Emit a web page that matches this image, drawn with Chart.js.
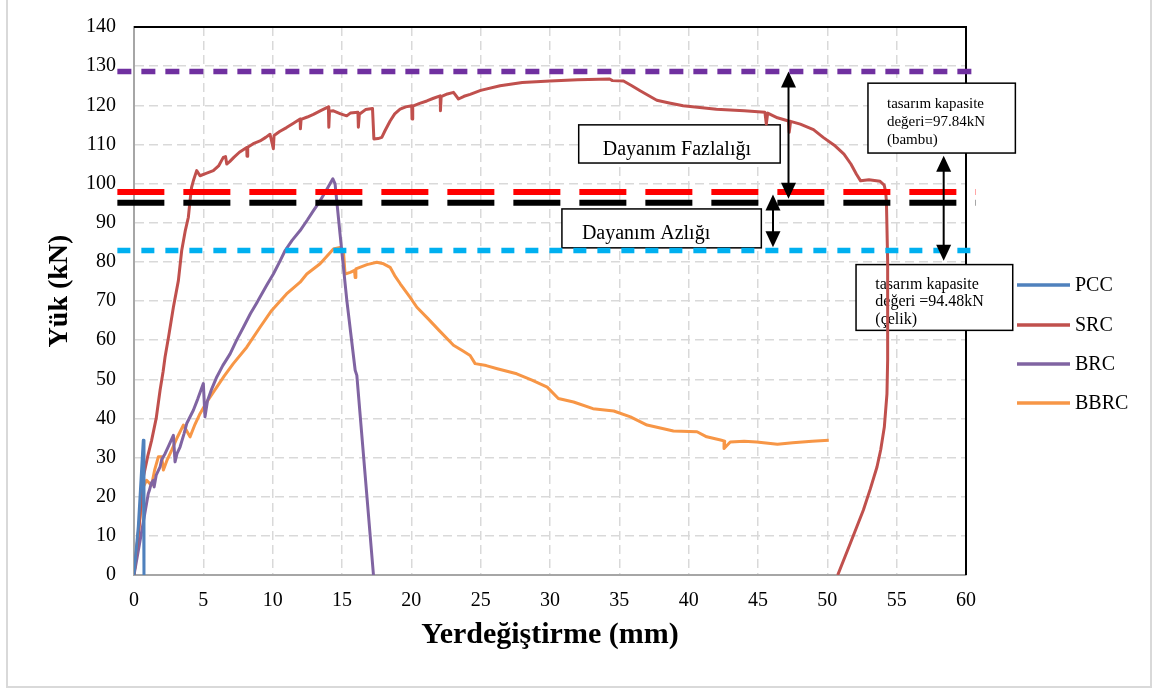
<!DOCTYPE html>
<html>
<head>
<meta charset="utf-8">
<script src="https://cdn.jsdelivr.net/npm/chart.js@4.4.1/dist/chart.umd.min.js"></script>
<style>
  html, body { margin: 0; padding: 0; background: #fff; }
  #wrap { position: relative; width: 1155px; height: 690px; overflow: hidden; }
  #frame { position: absolute; left: 6px; top: -2px; width: 1146px; height: 690px; border: 2px solid #d9d9d9; box-sizing: border-box; pointer-events: none; }
  canvas { position: absolute; left: 0; top: 0; }
</style>
</head>
<body>
<div id="wrap">
  <canvas id="chart" width="1155" height="690"></canvas>
  <div id="frame"></div>
</div>
<script>
// Load-displacement curves (x in mm, y in kN)
const pccX = [0, 0.31, 0.55, 0.67, 0.72];
const pccY = [0, 12.3, 27, 34.4, 0];

const srcX = [0, 0.35, 0.67, 1.0, 1.27, 1.6, 1.88, 2.1, 2.24, 2.5, 2.84, 3.2, 3.44, 3.7, 3.92, 4.04, 4.15, 4.28, 4.52, 4.76, 5.2, 5.72,
  6.1, 6.44, 6.6, 6.69, 6.9, 7.2, 7.6, 8.13, 8.15, 8.2, 8.6, 9.09, 9.5, 9.81, 10.05, 10.1, 10.5, 11.0, 11.5, 11.98, 12.0, 12.05,
  12.5, 12.94, 13.5, 14.02, 14.05, 14.1, 14.38, 14.9, 15.34, 15.6, 16.15, 16.18, 16.25, 16.7, 17.2, 17.3, 17.6, 17.87, 18.1,
  18.47, 18.8, 19.19, 19.6, 20.03, 20.05, 20.1, 20.6, 21.12, 21.6, 22.08, 22.1, 22.15, 22.6, 23.04, 23.4, 23.8, 24.24, 25.0,
  26.4, 28.0, 30.0, 32.0, 34.3, 34.5, 35.3, 35.9, 36.5, 37.7, 38.6, 39.6, 42.0, 44.0, 45.5, 45.6, 45.7, 46.4, 47.2, 47.25,
  47.35, 48.05, 49.0, 49.7, 50.5, 51.2, 51.7, 52.1, 52.4, 53.0, 53.8, 54.1, 54.2, 54.26, 54.35, 54.35, 54.3, 54.11, 53.85,
  53.58, 53.1, 52.6, 51.66, 50.75];
const srcY = [0, 12, 25, 30.5, 34.4, 40, 47.2, 52, 55.7, 61, 68.4, 75.2, 82.9, 88, 91.4, 95.6, 99, 100.7, 103.3, 102, 102.6, 103.3,
  104.5, 106.7, 106.9, 105, 105.6, 106.7, 108, 109.2, 107, 109.3, 110.2, 110.9, 111.8, 112.6, 108.9, 112.3, 113.3, 114.3, 115.4, 116.5, 114, 116.4,
  117, 117.7, 118.7, 119.6, 114.4, 118.5, 118.6, 117.8, 117.3, 118.0, 118.2, 114.4, 117.7, 118.9, 119.2, 111.4, 111.5, 111.8, 113.5,
  116, 117.8, 119, 119.6, 119.9, 116.5, 119.8, 120.5, 121.1, 121.8, 122.4, 118.6, 122.2, 122.9, 123.3, 121.6, 122.3, 122.8, 123.8,
  125.0, 125.8, 126.2, 126.5, 126.7, 126.3, 126.2, 125, 123.7, 121.3, 120.6, 119.9, 119.0, 118.6, 118.2, 115.2, 118, 116.8, 116.0, 113.1,
  115.9, 115.2, 113.8, 111.8, 109.8, 107.5, 105, 102.4, 100.7, 101.0, 100.6, 99.6, 98, 95.6, 80, 55, 46.3, 37.8, 32,
  27.6, 22, 16.6, 8.1, 0];

const brcX = [0, 0.5, 1.03, 1.1, 1.25, 1.39, 1.45, 1.6, 1.88, 2.0, 2.24, 2.5, 2.84, 2.96, 3.1, 3.32, 3.6, 3.8, 4.28, 4.6, 5.0, 5.12,
  5.3, 5.6, 5.97, 6.4, 6.93, 7.4, 7.89, 8.4, 8.85, 9.09, 9.6, 10.05, 10.5, 10.9, 11.4, 11.98, 12.5, 12.94, 13.42, 13.9, 14.34,
  14.5, 14.86, 15.35, 15.95, 16.07, 17.27];
const brcY = [0, 10, 20.8, 21.5, 23.5, 24.2, 22.5, 25.5, 27.6, 29.5, 31.0, 33, 35.7, 28.9, 31, 32.7, 36, 38.7, 42.1, 45, 48.9, 40.4,
  44.5, 47.5, 50.6, 53.5, 56.5, 60, 63.3, 66.8, 69.5, 71.0, 74.2, 76.9, 80, 82.9, 85.5, 88, 90.7, 93.1, 95.6, 98.5, 101.2,
  99.9, 87.1, 70.1, 52.3, 51, 0];

const bbrcX = [0, 0.3, 0.67, 0.91, 1.1, 1.27, 1.5, 1.76, 2.0, 2.12, 2.4, 2.72, 3.1, 3.56, 4.04, 4.4, 4.76, 5.3, 5.97, 6.5, 7.16,
  8.13, 9.09, 9.93, 11.0, 11.98, 12.46, 13.42, 14.38, 14.86, 15.1, 15.22, 15.6, 15.9, 15.95, 16.0, 16.8, 17.51, 18.0, 18.47,
  18.8, 19.2, 19.9, 20.4, 21.2, 22.0, 23.04, 23.7, 24.24, 24.6, 25.4, 26.2, 27.6, 28.7, 29.8, 30.6, 31.7, 33.1, 34.6, 35.8,
  37.0, 38.9, 40.6, 41.3, 42.3, 42.6, 42.55, 43.0, 44.0, 44.9, 46.4, 47.5, 48.9, 50.1];
const bbrcY = [0, 10, 22.5, 24.2, 23.5, 23, 27, 30.2, 30.2, 26.8, 29.5, 31.9, 35, 38.3, 35.3, 38.5, 41.2, 44.5, 48.0, 50.8, 54.0,
  58.2, 63.3, 67.6, 71.8, 74.8, 76.9, 79.5, 83.3, 83.7, 83, 76.9, 77.3, 77.8, 76, 78.2, 79.3, 79.9, 79.5, 78.6,
  76.5, 74.4, 71, 68.4, 65.5, 62.5, 58.7, 57.3, 56.1, 54.0, 53.5, 52.7, 51.4, 49.8, 48.0, 45.1, 44.2, 42.5, 41.9, 40.4,
  38.3, 36.8, 36.6, 35.3, 34.5, 34.2, 32.3, 34.0, 34.2, 34.0, 33.4, 33.8, 34.2, 34.4];

const seriesNames = ['PCC', 'SRC', 'BRC', 'BBRC'];
const seriesColors = ['#4f81bd', '#c0504d', '#8064a2', '#f79646'];

// horizontal reference levels (kN) drawn as dashed lines
const refLevels = [128.6, 97.84, 95.1, 82.9];
const refColors = ['#7030a0', '#ff0000', '#000000', '#00b0f0'];
const refDash = [[14, 10], [47, 19], [47, 19], [13, 11]];
const refSpan = [-1.2, 60.7];

const xTicks = [0, 60, 5];
const yTicks = [0, 140, 10];
const yTitle = 'Yük (kN)';

// text boxes and arrows, positioned in data units
const boxes = [
  { x0: 32.07, x1: 46.6, y0: 115.0, y1: 105.25, size: 20, align: 'center', tx: 39.15, lines: ['Dayanım Fazlalığı'], ty: [107.4] },
  { x0: 30.86, x1: 45.24, y0: 93.52, y1: 83.58, size: 20, align: 'left', tx: 32.3, lines: ['Dayanım Azlığı'], ty: [85.9] },
  { x0: 52.93, x1: 63.56, y0: 125.65, y1: 107.8, size: 15, align: 'left', tx: 54.3, lines: ['tasarım kapasite', 'değeri=97.84kN', '(bambu)'], ty: [119.3, 114.8, 110.2] },
  { x0: 52.07, x1: 63.37, y0: 79.3, y1: 62.5, size: 16, align: 'left', tx: 53.46, lines: ['tasarım kapasite', 'değeri =94.48kN', '(çelik)'], ty: [73.1, 68.6, 64.2] }
];
const arrows = [
  { x: 47.2, from: 128.6, to: 96.1 },
  { x: 46.08, from: 97.2, to: 83.7 },
  { x: 58.39, from: 107.1, to: 80.3 }
];

const serif = "'Liberation Serif', 'Times New Roman', serif";

function pts(xs, ys) { return xs.map((v, i) => ({ x: v, y: ys[i] })); }

const datasets = [];
[[pccX, pccY], [srcX, srcY], [brcX, brcY], [bbrcX, bbrcY]].forEach((s, i) => {
  datasets.push({
    label: seriesNames[i], data: pts(s[0], s[1]), showLine: true, borderColor: seriesColors[i],
    borderWidth: 3, pointRadius: 0, tension: 0, order: 1, borderJoinStyle: 'round'
  });
});
refLevels.forEach((v, i) => {
  datasets.push({
    label: 'ref' + i, data: refSpan.map(x => ({ x: x, y: v })), showLine: true, borderColor: refColors[i],
    borderWidth: i === 0 || i === 3 ? 5.5 : 6, borderDash: refDash[i], pointRadius: 0, clip: false, order: 0
  });
});

function drawArrowHead(ctx, x, y, dir) {
  ctx.beginPath();
  ctx.moveTo(x, y);
  ctx.lineTo(x - 7.5, y - dir * 16);
  ctx.lineTo(x + 7.5, y - dir * 16);
  ctx.closePath();
  ctx.fill();
}

const overlay = {
  id: 'overlay',
  beforeDatasetsDraw(chart) {
    const { ctx, chartArea: a, scales: { x, y } } = chart;
    ctx.save();
    ctx.strokeStyle = '#000';
    ctx.lineWidth = 2;
    ctx.beginPath();
    ctx.moveTo(a.left, a.top);
    ctx.lineTo(a.right, a.top);
    ctx.lineTo(a.right, a.bottom);
    ctx.stroke();

    boxes.forEach(b => {
      const l = x.getPixelForValue(b.x0), r = x.getPixelForValue(b.x1);
      const t = y.getPixelForValue(b.y0), btm = y.getPixelForValue(b.y1);
      ctx.fillStyle = '#fff';
      ctx.fillRect(l, t, r - l, btm - t);
      ctx.lineWidth = 1.5;
      ctx.strokeStyle = '#000';
      ctx.strokeRect(l, t, r - l, btm - t);
      ctx.fillStyle = '#000';
      ctx.font = b.size + 'px ' + serif;
      ctx.textAlign = b.align;
      ctx.textBaseline = 'alphabetic';
      b.lines.forEach((txt, k) => ctx.fillText(txt, x.getPixelForValue(b.tx), y.getPixelForValue(b.ty[k])));
    });
    ctx.restore();
  },
  afterDatasetsDraw(chart) {
    const { ctx, scales: { x, y } } = chart;
    ctx.save();
    ctx.strokeStyle = '#000';
    ctx.fillStyle = '#000';
    ctx.lineWidth = 2;
    arrows.forEach(ar => {
      const px = x.getPixelForValue(ar.x);
      const y1 = y.getPixelForValue(ar.from), y2 = y.getPixelForValue(ar.to);
      ctx.beginPath();
      ctx.moveTo(px, y1 + 10);
      ctx.lineTo(px, y2 - 10);
      ctx.stroke();
      drawArrowHead(ctx, px, y1, -1);
      drawArrowHead(ctx, px, y2, 1);
    });
    ctx.restore();
  },
  afterDraw(chart) {
    const { ctx, chartArea: a } = chart;
    const rows = [285, 325, 364, 403];
    ctx.save();
    ctx.font = '20px ' + serif;
    ctx.textBaseline = 'middle';
    ctx.textAlign = 'left';
    seriesNames.forEach((n, i) => {
      const x0 = a.right + 51;
      ctx.strokeStyle = seriesColors[i];
      ctx.lineWidth = 3.5;
      ctx.beginPath();
      ctx.moveTo(x0, rows[i]);
      ctx.lineTo(x0 + 53, rows[i]);
      ctx.stroke();
      ctx.fillStyle = '#000';
      ctx.fillText(n, x0 + 58, rows[i] + 1);
    });
    // y-axis title, sitting a bit above the plot middle as in the original
    ctx.translate(60, 291);
    ctx.rotate(-Math.PI / 2);
    ctx.font = 'bold 28px ' + serif;
    ctx.textAlign = 'center';
    ctx.fillText(yTitle, 0, 0);
    ctx.restore();
  }
};

new Chart(document.getElementById('chart'), {
  type: 'scatter',
  data: { datasets: datasets },
  options: {
    responsive: false,
    animation: false,
    events: [],
    layout: { padding: { left: 0, right: 189, top: 27, bottom: 0 } },
    plugins: { legend: { display: false }, tooltip: { enabled: false } },
    scales: {
      x: {
        type: 'linear', min: xTicks[0], max: xTicks[1],
        ticks: { stepSize: xTicks[2], color: '#000', font: { family: serif, size: 20 }, padding: 14, maxRotation: 0 },
        grid: { color: '#d9d9d9', lineWidth: 1.5, drawTicks: false },
        border: { display: true, color: '#a6a6a6', width: 2, dash: [9, 5] },
        title: { display: true, text: 'Yerdeğiştirme (mm)', color: '#000', font: { family: serif, size: 30, weight: 'bold' }, padding: { top: 0, bottom: 37 } },
        afterFit(s) { s.height = 115; }
      },
      y: {
        type: 'linear', min: yTicks[0], max: yTicks[1],
        ticks: { stepSize: yTicks[2], color: '#000', font: { family: serif, size: 20 }, padding: 18 },
        grid: { color: '#d9d9d9', lineWidth: 1.5, drawTicks: false },
        border: { display: true, color: '#a6a6a6', width: 2, dash: [9, 5] },
        afterFit(s) { s.width = 134; s.paddingTop = 12; s.paddingBottom = 12; }
      }
    }
  },
  plugins: [overlay]
});
</script>
</body>
</html>
